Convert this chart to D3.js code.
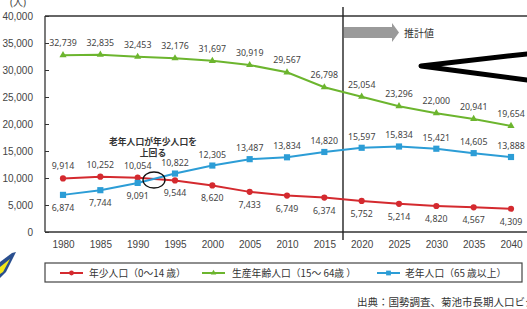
<!DOCTYPE html>
<html><head><meta charset="utf-8">
<script src="https://cdn.jsdelivr.net/npm/d3@7"></script>
<style>
html,body{margin:0;padding:0;background:#fff;}
svg{display:block;font-family:"Noto Sans","Noto Sans CJK JP",sans-serif;}
</style></head>
<body><svg id="c" width="527" height="309"></svg>
<script>
const years = [1980,1985,1990,1995,2000,2005,2010,2015,2020,2025,2030,2035,2040];
const young = [9914,10252,10054,9544,8620,7433,6749,6374,5752,5214,4820,4567,4309];
const working = [32739,32835,32453,32176,31697,30919,29567,26798,25054,23296,22000,20941,19654];
const elderly = [6874,7744,9091,10822,12305,13487,13834,14820,15597,15834,15421,14605,13888];
const yTicks = [0,5000,10000,15000,20000,25000,30000,35000,40000];
const seriesNames = ["年少人口（0〜14 歳）","生産年齢人口（15〜 64歳 ）","老年人口（65 歳以上）"];
const colors = ["#d42a2f","#6cb52e","#2c9dd6"];

const svg = d3.select("#c");
const x = d3.scalePoint().domain(years).range([63,511]);
const y = d3.scaleLinear().domain([0,40000]).range([232,16]);
const fmt = d3.format(",");

// frame
svg.append("line").attr("x1",45).attr("x2",527).attr("y1",16).attr("y2",16).attr("stroke","#333").attr("stroke-width",1.3);
svg.append("line").attr("x1",45).attr("x2",45).attr("y1",16).attr("y2",232).attr("stroke","#333").attr("stroke-width",1.3);
svg.append("line").attr("x1",45).attr("x2",527).attr("y1",232).attr("y2",232).attr("stroke","#333").attr("stroke-width",1.3);

// y axis
const ya = svg.append("g").attr("transform","translate(45,0)")
  .call(d3.axisLeft(y).tickValues(yTicks).tickSizeInner(-4).tickSizeOuter(0).tickPadding(12).tickFormat(fmt));
ya.select(".domain").remove();
ya.selectAll("line").attr("stroke","#333");
ya.selectAll("text").attr("font-size",10).attr("fill","#444");

// x axis
const xa = svg.append("g").attr("transform","translate(0,232)")
  .call(d3.axisBottom(x).tickSize(0).tickPadding(9));
xa.select(".domain").remove();
xa.selectAll("text").attr("font-size",10).attr("fill","#444");

// unit
svg.append("text").attr("x",18).attr("y",6).attr("text-anchor","middle").attr("font-size",10).attr("fill","#444").text("(人)");

// divider & projection arrow
const xd = (x(2015)+x(2020))/2;
svg.append("line").attr("x1",xd).attr("x2",xd).attr("y1",7).attr("y2",240).attr("stroke","#222").attr("stroke-width",1.4);
svg.append("path").attr("d",`M${xd+1},27 L${xd+49},27 L${xd+49},23 L${xd+56},32.5 L${xd+49},42 L${xd+49},38 L${xd+1},38 Z`).attr("fill","#9a9a9a");
svg.append("text").attr("x",xd+61).attr("y",37).attr("font-size",10).attr("font-family","Noto Sans CJK JP").attr("fill","#333").text("推計値");

// series
const series = [young, working, elderly];
const sym = [d3.symbolCircle, d3.symbolTriangle, d3.symbolSquare];
const symSize = [30, 22, 38];
const line = d3.line().x((d,i)=>x(years[i])).y(d=>y(d));
series.forEach((s,k)=>{
  svg.append("path").datum(s).attr("d",line).attr("fill","none").attr("stroke",colors[k]).attr("stroke-width",2);
  svg.append("g").selectAll("path").data(s).join("path")
    .attr("transform",(d,i)=>`translate(${x(years[i])},${y(d)})`)
    .attr("d",d3.symbol().type(sym[k]).size(symSize[k])).attr("fill",colors[k]);
});

// data labels
function labels(s, above, up){
  svg.append("g").selectAll("text").data(s).join("text")
    .attr("x",(d,i)=>x(years[i]))
    .attr("y",(d,i)=>y(d) + (above(i) ? -up : 16))
    .attr("text-anchor","middle").attr("font-size",8.8).attr("fill","#444")
    .text(d=>fmt(d));
}
labels(working, i=>true, 9);
labels(young, i=>i<3, 9);
labels(elderly, i=>i>=3, 8);

// annotation
svg.append("text").attr("x",153).attr("y",144.5).attr("text-anchor","middle").attr("font-size",8.8).attr("font-weight","bold").attr("font-family","Noto Sans CJK JP").attr("fill","#333").text("老年人口が年少人口を");
svg.append("text").attr("x",153).attr("y",156).attr("text-anchor","middle").attr("font-size",8.8).attr("font-weight","bold").attr("font-family","Noto Sans CJK JP").attr("fill","#333").text("上回る");
svg.append("ellipse").attr("cx",154).attr("cy",180).attr("rx",11).attr("ry",8).attr("fill","none").attr("stroke","#111").attr("stroke-width",1.3);

// legend
svg.append("rect").attr("x",45).attr("y",263).attr("width",477).attr("height",19).attr("fill","#fff").attr("stroke","#444").attr("stroke-width",1.2);
const lx = [60, 202, 377], tx = [89, 232, 405];
const lg = svg.append("g");
seriesNames.forEach((n,k)=>{
  lg.append("line").attr("x1",lx[k]).attr("x2",lx[k]+23).attr("y1",273).attr("y2",273).attr("stroke",colors[k]).attr("stroke-width",2);
  lg.append("path").attr("transform",`translate(${lx[k]+11.5},273)`).attr("d",d3.symbol().type(sym[k]).size(symSize[k]*0.6)).attr("fill",colors[k]);
  lg.append("text").attr("x",tx[k]).attr("y",276.5).attr("font-size",9.8).attr("font-family","Noto Sans CJK JP").attr("fill","#333").text(n);
});

// source
svg.append("text").attr("x",357).attr("y",306).attr("font-size",10.5).attr("font-family","Noto Sans CJK JP").attr("fill","#333").text("出典：国勢調査、菊池市長期人口ビジョン");

// overlay marks
svg.append("path").attr("d","M535,53 L421,66 L535,81").attr("fill","none").attr("stroke","#000").attr("stroke-width",5).attr("stroke-linecap","round").attr("stroke-linejoin","round");
svg.append("path").attr("d","M0,262 L12,253 L16,252 L6,272 L0,278 Z").attr("fill","#2a4f8f");
svg.append("path").attr("d","M0,267 L10,259 L3,272 L0,274 Z").attr("fill","#f2e81a");
</script></body></html>
